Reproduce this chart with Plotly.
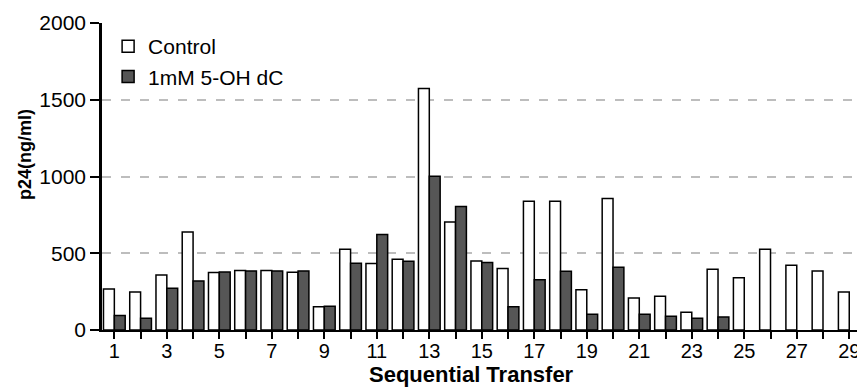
import plotly.graph_objects as go

transfers = list(range(1, 30))
control = [267, 248, 359, 639, 374, 387, 387, 376, 152, 526,
           433, 461, 1574, 704, 450, 400, 839, 839, 263, 857,
           209, 220, 115, 396, 341, 526, 422, 385, 248]
treated = [94, 76, 272, 320, 378, 385, 385, 385, 154, 435,
           622, 448, 1002, 805, 439, 152, 328, 383, 103, 409,
           102, 89, 76, 85, None, None, None, None, None]
tick_labels = [str(t) if t % 2 == 1 else "" for t in transfers]
y_ticks = [0, 500, 1000, 1500, 2000]

FONT = "Liberation Sans, Arial, Helvetica, sans-serif"

fig = go.Figure()
fig.add_trace(go.Bar(
    x=transfers, y=control, name="Control",
    marker=dict(color="white", line=dict(color="black", width=1.5)),
))
fig.add_trace(go.Bar(
    x=transfers, y=treated, name="1mM 5-OH dC",
    marker=dict(color="#565656", line=dict(color="black", width=1.5)),
))

# page body has an 8px default margin, so the figure is 8px smaller
fig.update_layout(
    width=857, height=380,
    margin=dict(l=94, r=0, t=15, b=58),
    paper_bgcolor="white", plot_bgcolor="white",
    barmode="group", bargap=0.173, bargroupgap=0,
    font=dict(family=FONT, size=20, color="black"),
    showlegend=True,
    legend=dict(
        x=0.008, y=0.99, xanchor="left", yanchor="top",
        font=dict(family=FONT, size=21, color="black"),
        bgcolor="rgba(0,0,0,0)", borderwidth=0,
        tracegroupgap=0,
    ),
    xaxis=dict(
        range=[0.53, 29.6],
        tickmode="array", tickvals=transfers, ticktext=tick_labels,
        ticks="outside", ticklen=7, tickwidth=1.5, tickcolor="black",
        ticklabelstandoff=-5,
        showline=True, linecolor="black", linewidth=2,
        showgrid=False, zeroline=False,
        tickfont=dict(family=FONT, size=20, color="black"),
    ),
    yaxis=dict(
        range=[0, 2000],
        tickmode="array", tickvals=y_ticks,
        ticks="outside", ticklen=9, tickwidth=1.5, tickcolor="black",
        showline=True, linecolor="black", linewidth=2.5,
        showgrid=True, gridcolor="#bdbdbd", gridwidth=1.5, griddash="9px,10px",
        zeroline=False,
        tickfont=dict(family=FONT, size=21, color="black"),
    ),
    annotations=[
        dict(text="p24(ng/ml)", xref="paper", yref="paper",
             x=-0.101, y=0.573, xanchor="center", yanchor="middle",
             textangle=-90, showarrow=False,
             font=dict(family=FONT, size=18, color="black", weight="bold")),
        dict(text="Sequential Transfer", xref="paper", yref="paper",
             x=0.4845, y=-0.144, xanchor="center", yanchor="middle",
             showarrow=False,
             font=dict(family=FONT, size=22, color="black", weight="bold")),
    ],
)

fig.write_html("out.html")
